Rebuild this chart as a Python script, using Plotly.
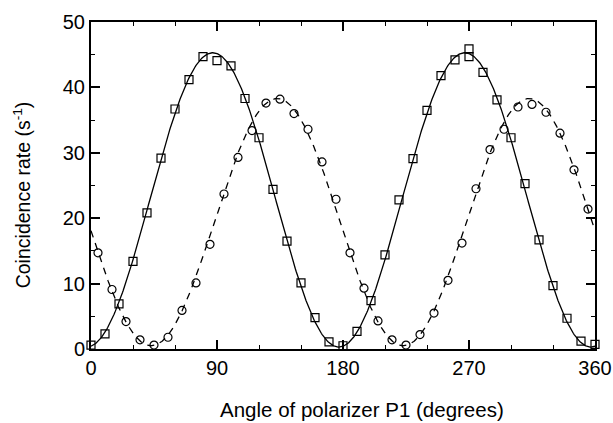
import numpy as np
import plotly.graph_objects as go

# Square data (solid fit)
sq_angle = [0, 10, 20, 30, 40, 50, 60, 70, 80, 90, 100, 110, 120, 130, 140, 150, 160, 170,
            180, 190, 200, 210, 220, 230, 240, 250, 260, 270, 270, 280, 290, 300, 310, 320,
            330, 340, 350, 360]
sq_rate = [0.6, 2.3, 6.9, 13.4, 20.8, 29.2, 36.7, 41.2, 44.7, 44.1, 43.3, 38.3, 32.3, 24.4,
           16.5, 10.1, 4.8, 1.1, 0.5, 2.7, 7.4, 14.4, 22.8, 29.1, 36.5, 41.8, 44.2, 45.9, 44.7,
           42.3, 38.1, 32.3, 25.3, 16.7, 9.7, 4.7, 1.2, 0.7]

# Circle data (dashed fit)
ci_angle = [5, 15, 25, 35, 45, 55, 65, 75, 85, 95, 105, 115, 125, 135, 145, 155, 165, 175,
            185, 195, 205, 215, 225, 235, 245, 255, 265, 275, 285, 295, 305, 315, 325, 335,
            345, 355]
ci_rate = [14.7, 9.1, 4.2, 1.4, 0.6, 1.8, 5.9, 10.1, 16.0, 23.7, 29.3, 33.4, 37.6, 38.2, 36.0,
           33.6, 28.6, 22.9, 14.7, 9.3, 4.3, 1.4, 0.6, 2.2, 5.5, 10.5, 16.2, 24.5, 30.5, 33.6,
           37.0, 37.4, 36.2, 33.0, 27.4, 21.4]

# Fit parameters: rate = amp * cos^2(theta - phase) + offset
solid_fit = dict(amp=45.0, phase=87.0, offset=0.3)
dashed_fit = dict(amp=37.8, phase=133.0, offset=0.5)

x_ticks = [0, 90, 180, 270, 360]
y_ticks = [0, 10, 20, 30, 40, 50]
x_title = "Angle of polarizer P1 (degrees)"
y_title = "Coincidence rate (s<sup>-1</sup>)"

theta = np.linspace(0, 360, 721)


def fit_curve(p):
    return p["amp"] * np.cos(np.radians(theta - p["phase"])) ** 2 + p["offset"]


fig = go.Figure()
fig.add_trace(go.Scatter(x=theta, y=fit_curve(solid_fit), mode="lines",
                         line=dict(color="black", width=1.3), hoverinfo="skip"))
fig.add_trace(go.Scatter(x=theta, y=fit_curve(dashed_fit), mode="lines",
                         line=dict(color="black", width=1.3, dash="7px,6px"), hoverinfo="skip"))
fig.add_trace(go.Scatter(x=sq_angle, y=sq_rate, mode="markers", cliponaxis=False,
                         marker=dict(symbol="square-open", size=8, color="black",
                                     line=dict(width=1.2, color="black"))))
fig.add_trace(go.Scatter(x=ci_angle, y=ci_rate, mode="markers", cliponaxis=False,
                         marker=dict(symbol="circle-open", size=8, color="black",
                                     line=dict(width=1.2, color="black"))))

font_family = "Liberation Sans, Arial, sans-serif"
fig.update_layout(
    width=613, height=423,
    margin=dict(l=91, r=18, t=22, b=74, autoexpand=False),
    paper_bgcolor="white", plot_bgcolor="white",
    showlegend=False,
    font=dict(family=font_family, size=20, color="black"),
    annotations=[
        dict(text=x_title, xref="paper", yref="paper", x=0.538, y=0, yshift=-60,
             xanchor="center", yanchor="middle", showarrow=False, font=dict(size=20.5)),
        dict(text=y_title, xref="paper", yref="paper", x=0, y=0.47, xshift=-69,
             xanchor="center", yanchor="middle", textangle=-90, showarrow=False,
             font=dict(size=19.5)),
    ],
)
fig.update_xaxes(
    range=[0, 360], tickvals=x_ticks, ticktext=[str(v) for v in x_ticks],
    ticks="inside", ticklen=9, tickwidth=1.5, tickcolor="black",
    minor=dict(dtick=30, tick0=0, ticks="inside", ticklen=4, tickwidth=1.2, tickcolor="black"),
    showline=True, linecolor="black", linewidth=2, mirror="allticks",
    showgrid=False, zeroline=False, automargin=False,
    tickfont=dict(size=20),
)
fig.update_yaxes(
    range=[0, 50], tickvals=y_ticks, ticktext=[str(v) for v in y_ticks],
    ticks="inside", ticklen=9, tickwidth=1.5, tickcolor="black",
    minor=dict(dtick=5, tick0=0, ticks="inside", ticklen=4, tickwidth=1.2, tickcolor="black"),
    showline=True, linecolor="black", linewidth=2, mirror="allticks",
    showgrid=False, zeroline=False, automargin=False,
    tickfont=dict(size=20),
)

fig.write_html(
    "out.html",
    config={"displayModeBar": False},
    post_script="document.body.style.margin='0';document.body.style.overflow='hidden';",
)
